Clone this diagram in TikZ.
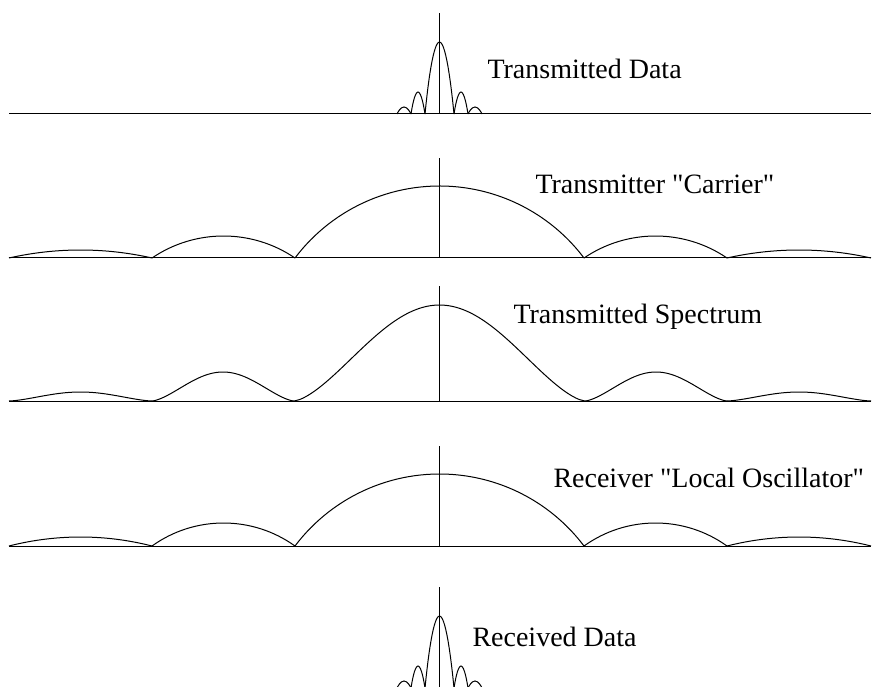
\documentclass[tikz,border=0pt]{standalone}
\usepackage{fontspec}
\setmainfont{Liberation Serif}[Ligatures=TeXOff]

% arched lobe between two zeros: left x, right x, baseline, height
\newcommand{\archlobe}[4]{%
  \pgfmathsetmacro\halfw{(#2-#1)/2}%
  \pgfmathsetmacro\rad{\halfw/2*(\halfw/#4)+#4/2}%
  \pgfmathsetmacro\ang{asin(\halfw/\rad)}%
  \draw (#1,#3) arc[start angle=90+\ang, end angle=90-\ang, radius=\rad];}

\begin{document}
\begin{tikzpicture}[x=0.5pt,y=0.5pt,line width=0.5pt,
  sigtext/.style={anchor=base west,inner sep=0pt,font=\fontsize{14}{17}\selectfont}]
\clip (0,0) rectangle (877,686);
% frequency axes
\foreach \b in {572,428,285,140,-2}
  \draw (9,\b) -- (871,\b);
% centre lines
\draw (439.5,572) -- (439.5,673);
\draw (439.5,428) -- (439.5,528);
\draw (439.5,285) -- (439.5,400);
\draw (439.5,140) -- (439.5,240);
\draw (439.5,-2) -- (439.5,99);

% narrow data spectra, top and bottom
\foreach \b in {572,-2} {
  \foreach \a/\c/\h in {397/411/7,411/425/22,425/454/72,454/468/22,468/482/7}
    \draw (\a,\b) parabola bend ({(\a+\c)/2},\b+\h) (\c,\b);
}

% carrier and local oscillator
\foreach \b/\s/\o in {428/22/8,140/23/9} {
  \archlobe{9}{152}{\b}{\o}
  \archlobe{152}{295}{\b}{\s}
  \archlobe{295}{584}{\b}{72}
  \archlobe{584}{727}{\b}{\s}
  \archlobe{727}{871}{\b}{\o}
}

% transmitted spectrum
\foreach \a/\c/\h in {9/152/9,152/294/29,294/585/96,585/727/29,727/871/9}
  \draw plot[domain=\a:\c,samples=50,smooth]
    (\x,{285+\h*abs(sin(180/(\c-\a)*(\x-\a)))*sqrt(abs(sin(180/(\c-\a)*(\x-\a))))});

\node[sigtext] (txdata) at (487,607) {Transmitted Data};
\node[sigtext] (txcarrier) at (535,492) {Transmitter "Carrier"};
\node[sigtext] (txspectrum) at (513,362) {Transmitted Spectrum};
\node[sigtext] (rxlo) at (553,199) {Receiver "Local Oscillator"};
\node[sigtext] (rxdata) at (472,40) {Received Data};
\end{tikzpicture}
\end{document}
